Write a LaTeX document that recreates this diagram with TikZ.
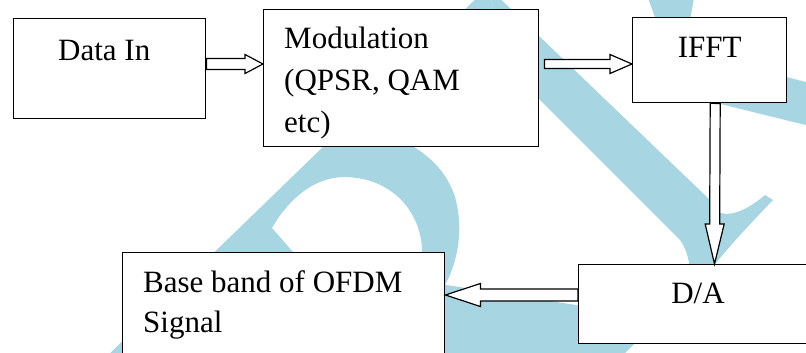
\documentclass[tikz,border=0pt]{standalone}
\usepackage{fontspec}
\setmainfont{Liberation Serif}
\usetikzlibrary{calc}
\definecolor{wm}{RGB}{167,213,226}
\tikzset{
  box/.style={draw=black, fill=white, line width=1.4pt, inner sep=0pt, anchor=north west},
  arrowline/.style={draw=black, fill=white, line width=1.2pt, line join=miter},
  lbl/.style={inner sep=0pt, font=\fontsize{31}{37}\selectfont},
  wmark/.style={fill=wm, draw=none},
}
% #1 start, #2 tip, #3 shaft half width, #4 head half width, #5 head length
\newcommand\hollowarrow[5]{%
  \coordinate (hh) at ($(#2)!#5!(#1)$);
  \draw[arrowline] ($(#1)!#3!90:(#2)$) -- ($(hh)!#3!-90:(#1)$) -- ($(hh)!#4!-90:(#1)$)
    -- (#2) -- ($(hh)!#4!90:(#1)$) -- ($(hh)!#3!90:(#1)$) -- ($(#1)!#3!-90:(#2)$) -- cycle;
}
\begin{document}
\begin{tikzpicture}[x=1pt,y=-1pt]
\useasboundingbox (0,0) rectangle (806,353);
\clip (0,0) rectangle (806,353);
\fill[white] (0,0) rectangle (806,353);
% watermark
\path[wmark] (488,-13) -- (98,365) -- (300,365) -- (300,260) -- (293,252) -- (272,228)
  .. controls (285,205) and (310,177) .. (345,177)
  .. controls (395,178) and (422,215) .. (422,252) -- (422,300) -- (440,300) -- (444,287)
  .. controls (458,262) and (464,230) .. (455,197)
  .. controls (447,172) and (428,152) .. (400,140) -- (495,15) -- cycle;
\path[wmark] (488,-13) -- (710,200) -- (720,213)
  .. controls (735,217) and (752,206) .. (765,195) -- (773,200)
  .. controls (752,222) and (730,245) .. (712,268) -- (690,268)
  .. controls (688,255) and (685,247) .. (680,240) -- (538,98) -- (495,15) -- cycle;
\path[wmark] (440,284) -- (660,318) -- (620,358) -- (440,358) -- cycle;
\path[wmark] (680,50.5) -- (830,88) -- (830,131) -- (680,94) -- cycle;
\path[wmark] (648,-2) -- (694,-2) -- (690,20) -- (656,20) -- cycle;
% boxes
\node[box, minimum width=192pt, minimum height=100pt] (data) at (13,18) {};
\node[box, minimum width=275pt, minimum height=137pt] (mod) at (263,9) {};
\node[box, minimum width=154pt, minimum height=85pt] (ifft) at (632,17) {};
\node[box, minimum width=240pt, minimum height=79pt] (da) at (578,264) {};
\node[box, minimum width=322pt, minimum height=130pt] (base) at (122,252) {};
% arrows
\coordinate (a1s) at ($(data.north east)+(0,46)$);
\coordinate (a1e) at ($(mod.north west)+(0,55)$);
\coordinate (a2s) at ($(mod.north east)+(5,55)$);
\coordinate (a2e) at ($(ifft.north west)+(0,47)$);
\coordinate (a3s) at ($(ifft.south)+(5.5,0)$);
\coordinate (a3e) at ($(da.north west)+(136.5,0)$);
\coordinate (a4s) at ($(da.north west)+(0,31)$);
\coordinate (a4e) at ($(base.north east)+(0,43)$);
\hollowarrow{a1s}{a1e}{5.5pt}{9.5pt}{18pt}
\hollowarrow{a2s}{a2e}{4.5pt}{9.5pt}{22pt}
\hollowarrow{a3s}{a3e}{5pt}{9.5pt}{40pt}
\hollowarrow{a4s}{a4e}{6pt}{11.5pt}{35pt}
% labels
\node[lbl, anchor=base west] (t1) at ($(data.north west)+(45,42)$) {Data In};
\node[lbl, anchor=base west] (t2a) at ($(mod.north west)+(21,40)$) {Modulation};
\node[lbl, anchor=base west] (t2b) at ($(mod.north west)+(21,82)$) {(QPSR, QAM};
\node[lbl, anchor=base west] (t2c) at ($(mod.north west)+(21,123)$) {etc)};
\node[lbl, anchor=base] (t3) at ($(ifft.north)+(0,41)$) {IFFT};
\node[lbl, anchor=base] (t4) at ($(da.north west)+(120,39)$) {D/A};
\node[lbl, anchor=base west] (t5a) at ($(base.north west)+(21,40)$) {Base band of OFDM};
\node[lbl, anchor=base west] (t5b) at ($(base.north west)+(21,80)$) {Signal};
\end{tikzpicture}
\end{document}
